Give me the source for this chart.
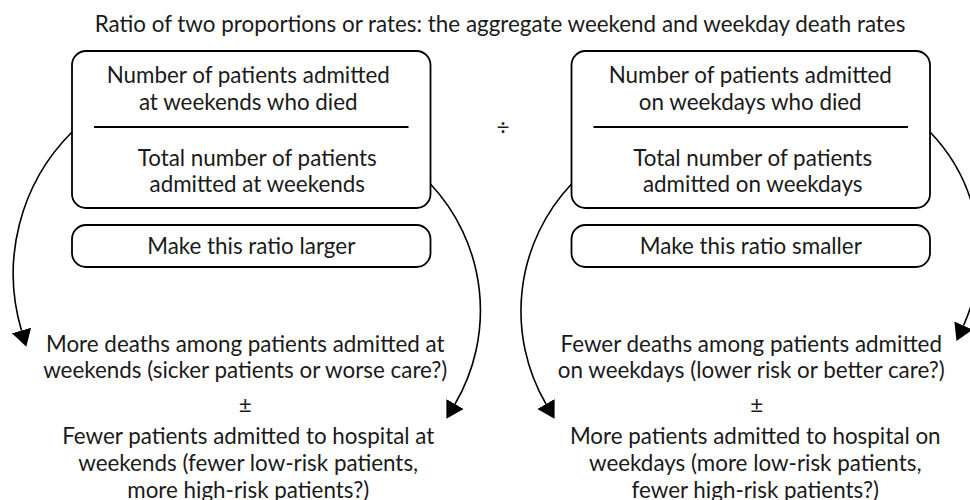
<!DOCTYPE html>
<html>
<head>
<meta charset="utf-8">
<script src="https://cdn.jsdelivr.net/npm/d3@7"></script>
<style>
  body { margin: 0; background: #fff; }
  svg { display: block; }
  text { font-family: Lato, "Open Sans", sans-serif; fill: #1a1a1a; }
</style>
</head>
<body>
<div id="chart"></div>
<script>
// Text of the diagram
const title = "Ratio of two proportions or rates: the aggregate weekend and weekday death rates";
const groups = ["weekend", "weekday"];
const numeratorLines = [
  ["Number of patients admitted", "at weekends who died"],
  ["Number of patients admitted", "on weekdays who died"],
];
const denominatorLines = [
  ["Total number of patients", "admitted at weekends"],
  ["Total number of patients", "admitted on weekdays"],
];
const ratioLabels = ["Make this ratio larger", "Make this ratio smaller"];
const deathLines = [
  ["More deaths among patients admitted at", "weekends (sicker patients or worse care?)"],
  ["Fewer deaths among patients admitted", "on weekdays (lower risk or better care?)"],
];
const admissionLines = [
  ["Fewer patients admitted to hospital at", "weekends (fewer low-risk patients,", "more high-risk patients?)"],
  ["More patients admitted to hospital on", "weekdays (more low-risk patients,", "fewer high-risk patients?)"],
];

const width = 970;
const height = 500;
const fontSize = 22.4;
const lineH = 26.7;

// small horizontal nudges of each text block, per group
const nudge = {
  numerator: [-3, -0.5],
  denominator: [6, 2],
  deaths: [-6, 0.5],
  plusMinus: [-6, 6],
  admissions: [-3, 4.5],
};

const svg = d3
  .select("#chart")
  .append("svg")
  .attr("width", width)
  .attr("height", height);

const x = d3
  .scaleBand()
  .domain(groups)
  .range([72, 930])
  .paddingInner(0.2823);

const bw = x.bandwidth();
const cx = (g) => x(g) + bw / 2;

svg
  .append("defs")
  .append("marker")
  .attr("id", "arrow")
  .attr("markerUnits", "userSpaceOnUse")
  .attr("markerWidth", 22)
  .attr("markerHeight", 24)
  .attr("viewBox", "0 -12 22 24")
  .attr("refX", 0)
  .attr("refY", 0)
  .attr("orient", "auto")
  .append("path")
  .attr("d", "M0,-10L17,0L0,10Z")
  .attr("fill", "#000");

// title
svg
  .append("text")
  .attr("x", 500)
  .attr("y", 32)
  .attr("text-anchor", "middle")
  .style("font-size", fontSize + "px")
  .text(title);

function lines(g, arr, xc, y0) {
  g.append("text")
    .attr("text-anchor", "middle")
    .style("font-size", fontSize + "px")
    .selectAll("tspan")
    .data(arr)
    .join("tspan")
    .attr("x", xc)
    .attr("y", (d, i) => y0 + i * lineH)
    .text((d) => d);
}

groups.forEach((grp, i) => {
  const g = svg.append("g").attr("class", "group-" + grp);
  const x0 = x(grp);
  const x1 = x0 + bw;

  // fraction box
  g.append("rect")
    .attr("x", x0)
    .attr("y", 51)
    .attr("width", bw)
    .attr("height", 157)
    .attr("rx", 14)
    .attr("fill", "none")
    .attr("stroke", "#000")
    .attr("stroke-width", 1.8);

  g.append("line")
    .attr("x1", x0 + 22)
    .attr("x2", x1 - 22)
    .attr("y1", 127)
    .attr("y2", 127)
    .attr("stroke", "#000")
    .attr("stroke-width", 1.8);

  lines(g, numeratorLines[i], cx(grp) + nudge.numerator[i], 83.3);
  lines(g, denominatorLines[i], cx(grp) + nudge.denominator[i], 165.7);

  // ratio label box
  g.append("rect")
    .attr("x", x0)
    .attr("y", 225)
    .attr("width", bw)
    .attr("height", 42)
    .attr("rx", 14)
    .attr("fill", "none")
    .attr("stroke", "#000")
    .attr("stroke-width", 1.8);

  g.append("text")
    .attr("x", cx(grp))
    .attr("y", 253.5)
    .attr("text-anchor", "middle")
    .style("font-size", fontSize + "px")
    .text(ratioLabels[i]);

  // consequences
  lines(g, deathLines[i], cx(grp) + nudge.deaths[i], 351.7);
  g.append("text")
    .attr("x", cx(grp) + nudge.plusMinus[i])
    .attr("y", 413)
    .attr("text-anchor", "middle")
    .style("font-size", fontSize + "px")
    .text("\u00b1");
  lines(g, admissionLines[i], cx(grp) + nudge.admissions[i], 444.3);
});

// divide sign between the two fractions
svg
  .append("text")
  .attr("x", 503)
  .attr("y", 135)
  .attr("text-anchor", "middle")
  .style("font-size", fontSize + "px")
  .text("\u00f7");

// curved arrows: [start x, start y, end x, end y, radius, sweep]
const L = x("weekend"), R = x("weekday");
const arcs = [
  [L, 132, 21.5, 330.5, 200, 0],
  [L + bw, 184, 455, 404, 185, 1],
  [R, 184, 546, 404, 185, 0],
  [R + bw, 132, 963.5, 325.5, 175, 1],
];

svg
  .append("g")
  .selectAll("path")
  .data(arcs)
  .join("path")
  .attr("d", (a) => `M${a[0]},${a[1]}A${a[4]},${a[4]} 0 0 ${a[5]} ${a[2]},${a[3]}`)
  .attr("fill", "none")
  .attr("stroke", "#000")
  .attr("stroke-width", 1.6)
  .attr("marker-end", "url(#arrow)");
</script>
</body>
</html>
